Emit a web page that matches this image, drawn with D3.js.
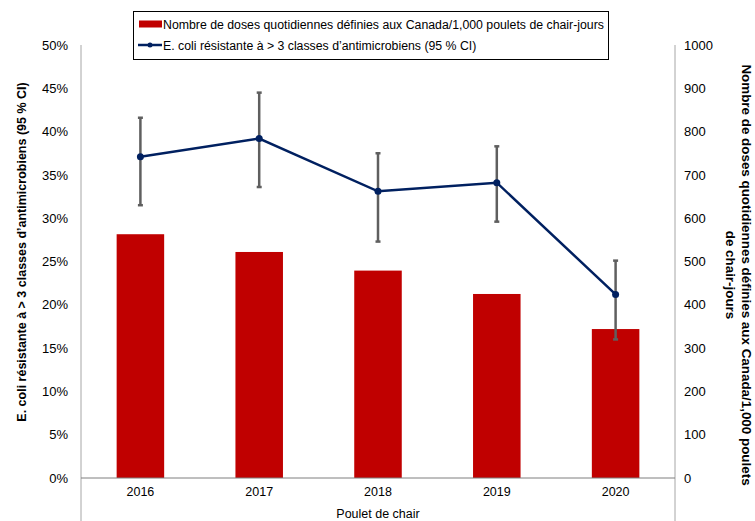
<!DOCTYPE html>
<html>
<head>
<meta charset="utf-8">
<script src="https://cdn.jsdelivr.net/npm/d3@7"></script>
<style>
  body { margin: 0; background: #fff; }
  svg text { font-family: "Liberation Sans", Arial, sans-serif; fill: #000; }
</style>
</head>
<body>
<div class="chart"></div>
<script>
var years = ["2016", "2017", "2018", "2019", "2020"];
var doses = [563, 522, 479, 425, 344];
var resistance = [0.371, 0.392, 0.331, 0.341, 0.212];
var ciLow = [0.315, 0.336, 0.273, 0.296, 0.160];
var ciHigh = [0.416, 0.445, 0.375, 0.383, 0.251];
var leftTicks = [0, 0.05, 0.1, 0.15, 0.2, 0.25, 0.3, 0.35, 0.4, 0.45, 0.5];
var rightTicks = [0, 100, 200, 300, 400, 500, 600, 700, 800, 900, 1000];

var barLabel = "Nombre de doses quotidiennes définies aux Canada/1,000 poulets de chair-jours";
var lineLabel = "E. coli résistante à > 3 classes d’antimicrobiens (95 % CI)";

var width = 755, height = 521;
var plotLeft = 81, plotRight = 675, plotTop = 45, plotBottom = 478;

var svg = d3.select(".chart").append("svg")
  .attr("width", width)
  .attr("height", height);

var x = d3.scaleBand().domain(years).range([plotLeft, plotRight])
  .paddingInner(0.6).paddingOuter(0.3);
var yLeft = d3.scaleLinear().domain([0, 0.5]).range([plotBottom, plotTop]);
var yRight = d3.scaleLinear().domain([0, 1000]).range([plotBottom, plotTop]);

// bars
svg.selectAll("rect.bar").data(doses).enter().append("rect")
  .attr("class", "bar")
  .attr("x", function(d, i) { return x(years[i]); })
  .attr("width", x.bandwidth())
  .attr("y", function(d) { return yRight(d); })
  .attr("height", function(d) { return plotBottom - yRight(d); })
  .attr("fill", "#c00000");

// axes
var gl = svg.append("g").attr("transform", "translate(" + plotLeft + ",0)")
  .call(d3.axisLeft(yLeft).tickValues(leftTicks).tickFormat(d3.format(".0%")).tickSize(0).tickPadding(13));
var gr = svg.append("g").attr("transform", "translate(" + plotRight + ",0)")
  .call(d3.axisRight(yRight).tickValues(rightTicks).tickFormat(d3.format("d")).tickSize(0).tickPadding(9));
var gx = svg.append("g").attr("transform", "translate(0," + plotBottom + ")")
  .call(d3.axisBottom(x).tickSize(0).tickPadding(9));
[gl, gr, gx].forEach(function(g) {
  g.select(".domain").remove();
  g.selectAll("text").style("font-family", "Liberation Sans, Arial, sans-serif").style("font-size", "13px").attr("fill", "#000");
});
gx.selectAll("text").style("font-size", "12.5px");

svg.append("line").attr("x1", plotLeft).attr("x2", plotLeft).attr("y1", plotTop).attr("y2", height)
  .attr("stroke", "#a6a6a6").attr("stroke-width", 1);
svg.append("line").attr("x1", plotRight).attr("x2", plotRight).attr("y1", plotTop).attr("y2", height)
  .attr("stroke", "#a6a6a6").attr("stroke-width", 1);
svg.append("line").attr("x1", plotLeft).attr("x2", plotRight).attr("y1", plotBottom).attr("y2", plotBottom)
  .attr("stroke", "#7f7f7f").attr("stroke-width", 1);

// error bars
var cx = function(i) { return x(years[i]) + x.bandwidth() / 2; };
var err = svg.selectAll("g.err").data(resistance).enter().append("g").attr("class", "err")
  .attr("stroke", "#5f5f5f").attr("stroke-width", 2.5);
err.append("line")
  .attr("x1", function(d, i) { return cx(i); }).attr("x2", function(d, i) { return cx(i); })
  .attr("y1", function(d, i) { return yLeft(ciLow[i]); })
  .attr("y2", function(d, i) { return yLeft(ciHigh[i]); });
err.append("line")
  .attr("x1", function(d, i) { return cx(i) - 2.5; }).attr("x2", function(d, i) { return cx(i) + 2.5; })
  .attr("y1", function(d, i) { return yLeft(ciLow[i]); })
  .attr("y2", function(d, i) { return yLeft(ciLow[i]); });
err.append("line")
  .attr("x1", function(d, i) { return cx(i) - 2.5; }).attr("x2", function(d, i) { return cx(i) + 2.5; })
  .attr("y1", function(d, i) { return yLeft(ciHigh[i]); })
  .attr("y2", function(d, i) { return yLeft(ciHigh[i]); });

// line
var line = d3.line()
  .x(function(d, i) { return cx(i); })
  .y(function(d) { return yLeft(d); });
svg.append("path").datum(resistance)
  .attr("d", line)
  .attr("fill", "none")
  .attr("stroke", "#002060")
  .attr("stroke-width", 2.5);
svg.selectAll("circle.pt").data(resistance).enter().append("circle")
  .attr("class", "pt")
  .attr("cx", function(d, i) { return cx(i); })
  .attr("cy", function(d) { return yLeft(d); })
  .attr("r", 3.5)
  .attr("fill", "#002060");

// axis titles
svg.append("text")
  .attr("transform", "translate(26,252) rotate(-90)")
  .attr("text-anchor", "middle")
  .style("font-size", "12.5px").style("font-weight", "bold")
  .text(lineLabel);
var rt = svg.append("text")
  .attr("transform", "translate(742,275) rotate(90)")
  .attr("text-anchor", "middle")
  .style("font-size", "13.4px").style("font-weight", "bold");
rt.append("tspan").attr("x", 0).attr("dy", 0).text("Nombre de doses quotidiennes définies aux Canada/1,000 poulets");
rt.append("tspan").attr("x", 0).attr("dy", 16).text("de chair-jours");
svg.append("text")
  .attr("x", (plotLeft + plotRight) / 2).attr("y", 518)
  .attr("text-anchor", "middle")
  .style("font-size", "12.5px")
  .text("Poulet de chair");

// legend
var lg = svg.append("g");
lg.append("rect").attr("x", 133.5).attr("y", 11.5).attr("width", 475).attr("height", 48)
  .attr("fill", "#fff").attr("stroke", "#000").attr("stroke-width", 1);
lg.append("rect").attr("x", 139).attr("y", 20.5).attr("width", 23).attr("height", 7).attr("fill", "#c00000");
lg.append("text").attr("x", 163).attr("y", 28.5).style("font-size", "12.3px").text(barLabel);
lg.append("line").attr("x1", 138).attr("x2", 162).attr("y1", 45).attr("y2", 45)
  .attr("stroke", "#002060").attr("stroke-width", 2.5);
lg.append("circle").attr("cx", 150).attr("cy", 45).attr("r", 2.5).attr("fill", "#002060");
lg.append("text").attr("x", 163).attr("y", 49.5).style("font-size", "12.3px").text(lineLabel);
</script>
</body>
</html>
